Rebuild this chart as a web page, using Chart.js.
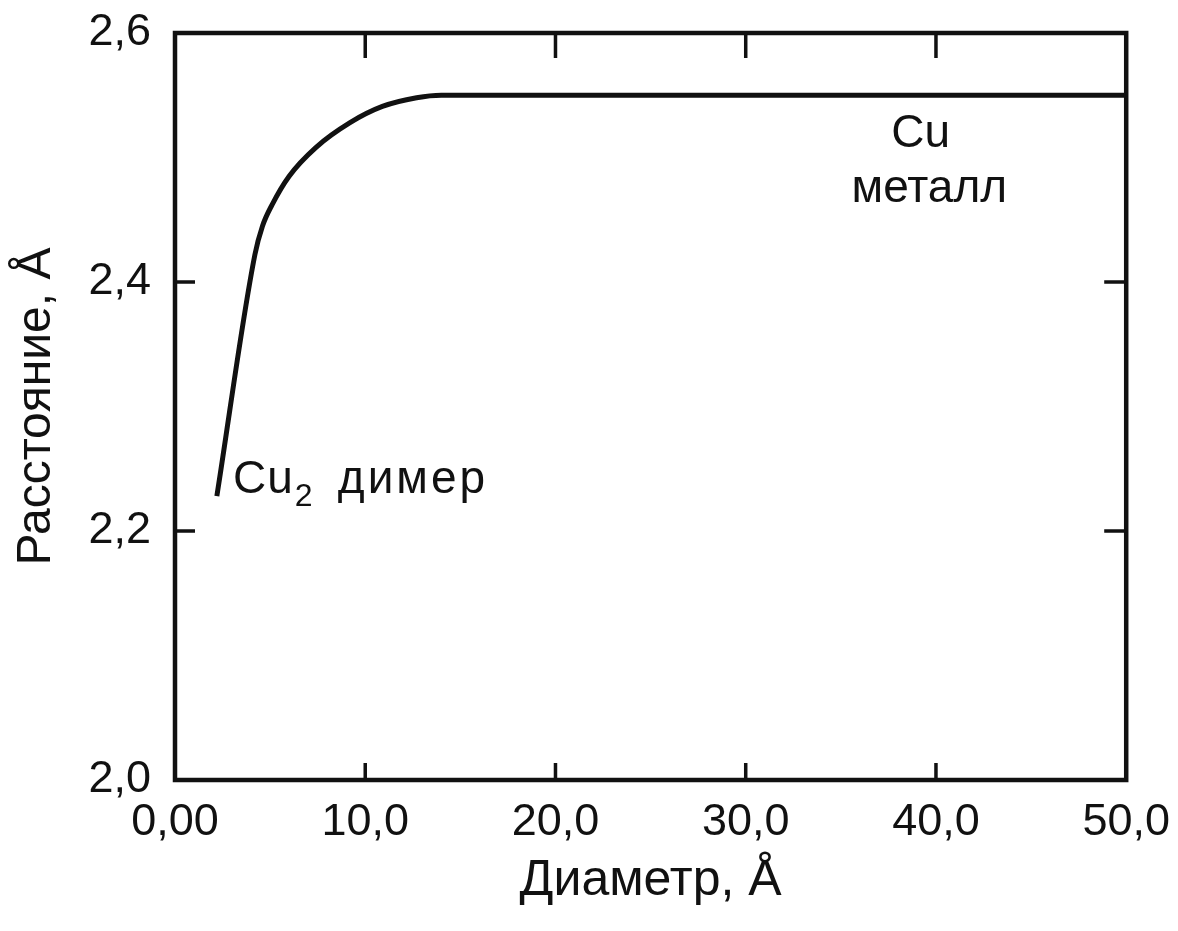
<!DOCTYPE html>
<html>
<head>
<meta charset="utf-8">
<script src="https://cdn.jsdelivr.net/npm/chart.js@4"></script>
<style>
  html, body { margin: 0; padding: 0; background: #fff; }
  #wrap { width: 1178px; height: 931px; position: relative; }
</style>
</head>
<body>
<div id="wrap"><canvas id="chart"></canvas></div>
<script>
// curve: diameter (Å) vs. Cu-Cu distance (Å)
var diameter = [2.2, 4.2, 4.6, 5.1, 6.0, 7.4, 9.2, 10.9, 12.7, 14.0, 50.0]
var distance = [2.228, 2.422, 2.445, 2.462, 2.485, 2.508, 2.528, 2.541, 2.548, 2.550, 2.550]

var xTicks = [0, 10, 20, 30, 40, 50]
var xTickLabels = ['0,00', '10,0', '20,0', '30,0', '40,0', '50,0']
var yTicks = [2.0, 2.2, 2.4, 2.6]
var yTickLabels = ['2,0', '2,2', '2,4', '2,6']

var ink = '#111'
var font = '"Liberation Sans", Arial, sans-serif'

// frame, inward ticks and in-plot labels
var framePlugin = {
    id: 'frame',
    afterDatasetsDraw: function(chart) {
        var c = chart.ctx, a = chart.chartArea
        var xs = chart.scales.x, ys = chart.scales.y
        c.save()
        c.strokeStyle = ink
        c.lineWidth = 4.5
        c.strokeRect(a.left, a.top, a.right - a.left, a.bottom - a.top)
        c.lineWidth = 3.5
        c.beginPath()
        xTicks.slice(1, -1).forEach(function(v) {
            var px = xs.getPixelForValue(v)
            c.moveTo(px, a.top); c.lineTo(px, a.top + 25)
            c.moveTo(px, a.bottom); c.lineTo(px, a.bottom - 17)
        })
        yTicks.slice(1, -1).forEach(function(v) {
            var py = ys.getPixelForValue(v)
            c.moveTo(a.left, py); c.lineTo(a.left + 20, py)
            c.moveTo(a.right, py); c.lineTo(a.right - 22, py)
        })
        c.stroke()

        c.fillStyle = ink
        c.textBaseline = 'alphabetic'
        c.font = '46px ' + font
        c.textAlign = 'center'
        c.fillText('Cu', xs.getPixelForValue(39.2), ys.getPixelForValue(2.5084))
        c.fillText('металл', xs.getPixelForValue(39.65), ys.getPixelForValue(2.4643))

        // Cu2 dimer label with subscript
        c.textAlign = 'left'
        var lx = xs.getPixelForValue(3.05), ly = ys.getPixelForValue(2.2305)
        c.letterSpacing = '1px'
        c.fillText('Cu', lx, ly)
        var w = c.measureText('Cu').width
        c.font = '32px ' + font
        c.fillText('2', lx + w + 1, ly + 13)
        c.font = '46px ' + font
        c.letterSpacing = '3px'
        c.fillText('димер', lx + w + 44, ly)
        c.restore()
    }
}

new Chart(document.getElementById('chart'), {
    type: 'line',
    data: {
        datasets: [{
            data: diameter.map(function(d, i) { return { x: d, y: distance[i] } }),
            borderColor: ink,
            borderWidth: 5,
            pointRadius: 0,
            cubicInterpolationMode: 'monotone',
            fill: false
        }]
    },
    options: {
        responsive: true,
        maintainAspectRatio: false,
        animation: false,
        layout: { padding: { top: 33, right: 51, left: 0, bottom: 0 } },
        plugins: { legend: { display: false }, tooltip: { enabled: false } },
        scales: {
            x: {
                type: 'linear', min: 0, max: 50,
                grid: { display: false },
                border: { display: false },
                afterFit: function(s) { s.height = 151 },
                afterBuildTicks: function(s) { s.ticks = xTicks.map(function(v) { return { value: v } }) },
                ticks: {
                    color: ink, padding: 8, maxRotation: 0,
                    font: { family: font, size: 45 },
                    callback: function(v) { return xTickLabels[xTicks.indexOf(v)] }
                },
                title: {
                    display: true, text: 'Диаметр, Å', color: ink,
                    font: { family: font, size: 50 },
                    padding: { top: 0, bottom: 20 }
                }
            },
            y: {
                type: 'linear', min: 2.0, max: 2.6,
                grid: { display: false },
                border: { display: false },
                afterFit: function(s) { s.width = 175; s.paddingTop = 0; s.paddingBottom = 0 },
                afterBuildTicks: function(s) { s.ticks = yTicks.map(function(v) { return { value: v } }) },
                ticks: {
                    color: ink, padding: 16,
                    font: { family: font, size: 45 },
                    callback: function(v) { return yTickLabels[yTicks.indexOf(Math.round(v * 10) / 10)] }
                },
                title: {
                    display: true, text: 'Расстояние, Å', color: ink,
                    font: { family: font, size: 48 },
                    padding: { top: 8, bottom: 0 }
                }
            }
        }
    },
    plugins: [framePlugin]
})
</script>
</body>
</html>
